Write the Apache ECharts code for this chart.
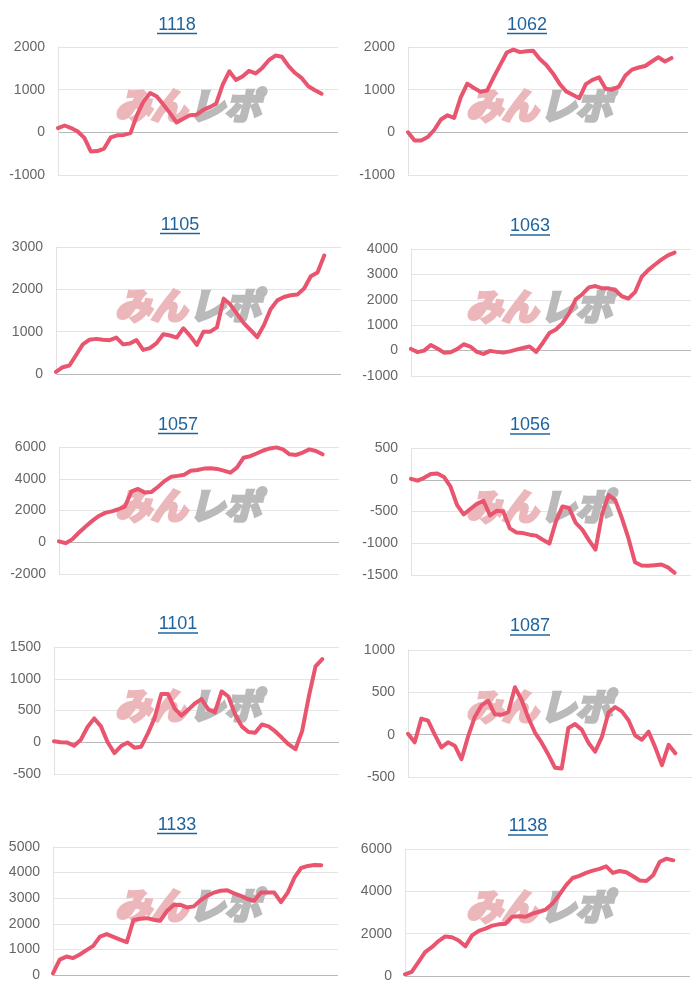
<!DOCTYPE html>
<html><head><meta charset="utf-8">
<script src="https://cdn.jsdelivr.net/npm/echarts@6/dist/echarts.min.js"></script>
<style>html,body{margin:0;padding:0;background:#fff;}#c{width:700px;height:1000px;}</style>
</head><body><div id="c"></div>
<script>
// ---- data ----
const titles = ['1118','1062','1105','1063','1057','1056','1101','1087','1133','1138'];

const s1118 = [100,160,100,20,-130,-450,-440,-380,-120,-70,-60,-20,410,730,920,840,650,450,230,320,400,410,520,590,670,1120,1430,1230,1310,1440,1380,1510,1690,1800,1770,1550,1390,1270,1080,985,905];
const s1062 = [0,-190,-190,-110,60,300,400,340,820,1140,1040,950,980,1290,1580,1870,1940,1880,1900,1910,1720,1580,1380,1140,960,880,800,1130,1230,1290,1020,1000,1070,1330,1470,1520,1555,1660,1760,1660,1740];
const s1105 = [50,160,200,450,700,810,830,810,800,860,700,720,800,570,610,730,940,910,860,1080,900,690,1000,1000,1100,1780,1640,1420,1200,1040,870,1150,1530,1740,1820,1860,1880,2020,2310,2400,2800];
const s1063 = [65,-60,0,220,80,-80,-65,60,250,160,-50,-130,-10,-50,-80,-30,40,100,160,-50,300,690,830,1080,1470,2020,2220,2490,2540,2450,2450,2380,2140,2050,2300,2900,3170,3380,3580,3750,3860];
const s1057 = [60,-60,180,600,980,1330,1640,1850,1945,2080,2250,3200,3360,3135,3160,3480,3850,4120,4180,4250,4500,4555,4640,4660,4620,4515,4380,4700,5320,5420,5590,5780,5910,5975,5850,5540,5500,5650,5850,5750,5540];
const s1056 = [15,-15,30,90,100,45,-110,-400,-545,-460,-380,-330,-560,-490,-500,-765,-830,-840,-865,-880,-945,-1005,-655,-420,-445,-680,-785,-950,-1100,-540,-240,-320,-600,-920,-1300,-1350,-1355,-1345,-1335,-1380,-1465];
const s1101 = [15,0,-5,-55,40,240,375,250,0,-170,-60,-5,-85,-70,140,380,760,760,530,420,510,610,680,520,470,800,720,440,250,160,150,280,250,170,70,-35,-110,175,720,1195,1310];
const s1087 = [10,-90,190,165,0,-150,-90,-130,-290,-20,210,345,400,240,235,265,560,410,200,25,-95,-235,-390,-400,80,125,60,-95,-200,-30,260,325,275,170,-10,-60,35,-150,-360,-120,-220];
const s1133 = [65,600,720,660,800,970,1140,1500,1600,1490,1380,1280,2150,2200,2220,2160,2120,2500,2730,2740,2640,2680,2920,3090,3220,3290,3310,3190,3090,2970,2900,3220,3220,3220,2850,3220,3800,4180,4260,4300,4290];
const s1138 = [80,200,660,1130,1360,1650,1870,1830,1680,1400,1920,2130,2240,2380,2440,2470,2800,2820,2800,2945,3035,3140,3420,3830,4280,4630,4730,4870,4980,5060,5180,4870,4960,4900,4710,4510,4490,4760,5400,5545,5465];

const seriesValues = [s1118,s1062,s1105,s1063,s1057,s1056,s1101,s1087,s1133,s1138];

// y-axis tick ranges
const yMin      = [-1000,-1000,   0,-1000,-2000,-1500,-500,-500,   0,   0];
const yMax      = [ 2000, 2000,3000, 4000, 6000,  500,1500,1000,5000,6000];
const yInterval = [ 1000, 1000,1000, 1000, 2000,  500, 500, 500,1000,2000];

const watermarkA = 'みん';
const watermarkB = 'レポ';

// ---- layout ----
const panels = [
  {l:58, t:47, w:280, h:128, tx:177, ty:25},
  {l:408,t:47, w:280, h:128, tx:527, ty:25},
  {l:56, t:247,w:285, h:127, tx:180, ty:225},
  {l:411,t:249,w:280, h:127, tx:530, ty:226.5},
  {l:59, t:447,w:280, h:127, tx:178, ty:425},
  {l:411,t:448,w:280, h:127, tx:530, ty:425.5},
  {l:54, t:647,w:285, h:127, tx:178, ty:624.5},
  {l:408,t:650,w:284, h:127, tx:530, ty:626.5},
  {l:53, t:847,w:285, h:128, tx:177, ty:825},
  {l:405,t:849,w:285, h:127, tx:528, ty:826.5}
];
const X_MAX = 42.5;
const LINE_COLOR = '#e9546e';
const TITLE_COLOR = '#20649e';

const grids = [], xAxes = [], yAxes = [], series = [], graphics = [];
panels.forEach((p, i) => {
  grids.push({left:p.l, top:p.t, width:p.w, height:p.h, containLabel:false});
  xAxes.push({type:'value', gridIndex:i, min:0, max:X_MAX, show:false});
  const nTicks = Math.round((yMax[i]-yMin[i])/yInterval[i]) + 1;
  const zeroIdx = Math.round((0 - yMin[i])/yInterval[i]);
  const colors = [];
  for (let k = 0; k < nTicks; k++) colors.push(k === zeroIdx ? '#b9b9b9' : '#e4e4e4');
  yAxes.push({
    type:'value', gridIndex:i, min:yMin[i], max:yMax[i], interval:yInterval[i],
    axisLine:{show:true, lineStyle:{color:'#e2e2e2', width:1}},
    axisTick:{show:false},
    axisLabel:{color:'#666', fontSize:14, fontFamily:'Liberation Sans, Arial, sans-serif', margin:13,
               formatter: v => String(v)},
    splitLine:{show:true, lineStyle:{color:colors, width:1}}
  });
  series.push({
    type:'line', xAxisIndex:i, yAxisIndex:i,
    data: seriesValues[i].map((v, k) => [k, v]),
    symbol:'none', smooth:false, z:5,
    lineStyle:{color:LINE_COLOR, width:4, join:'round', cap:'round'},
    silent:true, animation:false
  });
  // title + underline
  graphics.push({
    type:'text', x:p.tx, y:p.ty, z:10,
    style:{text:titles[i], fill:TITLE_COLOR, font:'18px "Liberation Sans", Arial, sans-serif',
           align:'center', verticalAlign:'middle', textAlign:'center', textVerticalAlign:'middle'}
  });
  const tw = titles[i].length * 10;
  graphics.push({
    type:'line', z:10,
    shape:{x1:p.tx - tw/2, y1:p.ty + 8.5, x2:p.tx + tw/2, y2:p.ty + 8.5},
    style:{stroke:TITLE_COLOR, lineWidth:1.5}
  });
  // watermark
  const col = i % 2, row = Math.floor(i / 2);
  const cx = 193 + col*350 + col;
  const cy = 105 + row*200 + (col && row ? 1 : 0);
  graphics.push({
    type:'text', x:cx - 6, y:cy, z:1,
    style:{text:watermarkA, fill:'#ecb7bb', stroke:'#ecb7bb', lineWidth:3.5,
           font:'italic bold 36px "Noto Sans CJK JP", sans-serif',
           align:'right', verticalAlign:'middle', textAlign:'right', textVerticalAlign:'middle'}
  });
  graphics.push({
    type:'text', x:cx - 4, y:cy, z:1,
    style:{text:watermarkB, fill:'#bababa', stroke:'#bababa', lineWidth:3.5,
           font:'italic bold 36px "Noto Sans CJK JP", sans-serif',
           align:'left', verticalAlign:'middle', textAlign:'left', textVerticalAlign:'middle'}
  });
});

const chart = echarts.init(document.getElementById('c'), null, {renderer:'canvas'});
chart.setOption({
  animation:false,
  backgroundColor:'#fff',
  grid:grids, xAxis:xAxes, yAxis:yAxes, series:series,
  graphic:{elements:graphics}
});
</script>
</body></html>
